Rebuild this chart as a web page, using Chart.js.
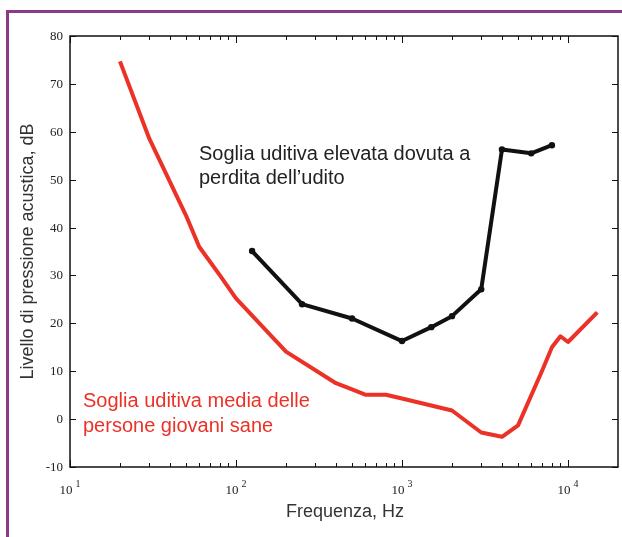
<!DOCTYPE html>
<html>
<head>
<meta charset="utf-8">
<script src="https://cdn.jsdelivr.net/npm/chart.js@4"></script>
<style>
  html, body { margin: 0; padding: 0; background: #fff; }
  canvas { display: block; }
</style>
</head>
<body>
<canvas id="chart" width="622" height="537"></canvas>
<script>
// average hearing threshold of young healthy listeners
const normalFreq = [20, 30, 50, 60, 80, 100, 200, 400, 500, 600, 800, 1000, 2000, 3000, 4000, 5000, 7000, 8000, 9000, 10000, 15000];
const normalLevel = [74.7, 58.6, 42.5, 36.0, 30.0, 25.2, 14.1, 7.5, 6.2, 5.1, 5.1, 4.3, 1.8, -2.8, -3.7, -1.3, 10.2, 15.0, 17.3, 16.1, 22.3];

// raised threshold caused by hearing loss
const lossFreq = [125, 250, 500, 1000, 1500, 2000, 3000, 4000, 6000, 8000];
const lossLevel = [35.1, 24.0, 21.0, 16.3, 19.2, 21.5, 27.1, 56.3, 55.5, 57.2];

const yTicks = [-10, 0, 10, 20, 30, 40, 50, 60, 70, 80];
const xDecades = [1, 2, 3, 4];

const xTitle = 'Frequenza, Hz';
const yTitle = 'Livello di pressione acustica, dB';
const normalLabel = ['Soglia uditiva media delle', 'persone giovani sane'];
const lossLabel = ['Soglia uditiva elevata dovuta a', 'perdita dell\u2019udito'];

const RED = '#ec3127';
const SERIF = '"Liberation Serif", "Times New Roman", serif';
const SANS = '"Liberation Sans", Arial, sans-serif';

const toPoints = (xs, ys) => xs.map((x, i) => ({ x: x, y: ys[i] }));

// thick stroke with a faint lighter core, like the printed curves
const curve = (data, color, width) => ({
    data: data, borderColor: color, borderWidth: width,
    pointRadius: 0, tension: 0, borderJoinStyle: 'round',
});

const framePlugin = {
    id: 'frame',
    afterDraw: (chart) => {
        const { ctx, chartArea: a, scales: { x, y } } = chart;
        ctx.save();

        // plot box
        ctx.strokeStyle = '#111';
        ctx.lineWidth = 1.5;
        ctx.strokeRect(a.left, a.top, a.right - a.left, a.bottom - a.top);

        // y ticks on both sides, pointing in
        ctx.lineWidth = 1;
        ctx.fillStyle = '#222';
        ctx.font = '13px ' + SERIF;
        ctx.textAlign = 'right';
        ctx.textBaseline = 'middle';
        yTicks.forEach((v) => {
            const py = Math.round(y.getPixelForValue(v)) + 0.5;
            ctx.beginPath();
            ctx.moveTo(a.left, py); ctx.lineTo(a.left + 6, py);
            ctx.moveTo(a.right, py); ctx.lineTo(a.right - 6, py);
            ctx.stroke();
            ctx.fillText(String(v), a.left - 7, py);
        });

        // log ticks on top and bottom
        xDecades.forEach((d) => {
            for (let m = 1; m <= 9; m++) {
                const f = m * Math.pow(10, d);
                if (f >= x.max) break;
                const px = Math.round(x.getPixelForValue(f)) + 0.5;
                const len = m === 1 ? 7 : 4;
                ctx.beginPath();
                ctx.moveTo(px, a.bottom); ctx.lineTo(px, a.bottom - len);
                ctx.moveTo(px, a.top); ctx.lineTo(px, a.top + len);
                ctx.stroke();
            }
            // "10" with a raised exponent
            const cx = x.getPixelForValue(Math.pow(10, d));
            ctx.font = '13px ' + SERIF;
            const w10 = ctx.measureText('10').width;
            ctx.font = '10px ' + SERIF;
            const wExp = ctx.measureText(String(d)).width;
            const start = cx - (w10 + 3 + wExp) / 2;
            ctx.textAlign = 'left';
            ctx.textBaseline = 'alphabetic';
            ctx.font = '13px ' + SERIF;
            ctx.fillText('10', start, a.bottom + 27);
            ctx.font = '10px ' + SERIF;
            ctx.fillText(String(d), start + w10 + 3, a.bottom + 20);
        });

        // axis titles
        ctx.fillStyle = '#333';
        ctx.font = '18px ' + SANS;
        ctx.textAlign = 'center';
        ctx.textBaseline = 'middle';
        ctx.fillText(xTitle, (a.left + a.right) / 2 + 1, 512);
        ctx.save();
        ctx.translate(28, (a.top + a.bottom) / 2);
        ctx.rotate(-Math.PI / 2);
        ctx.fillText(yTitle, 0, 0);
        ctx.restore();

        // curve captions
        ctx.font = '20px ' + SANS;
        ctx.textAlign = 'left';
        ctx.textBaseline = 'alphabetic';
        ctx.fillStyle = '#222';
        ctx.fillText(lossLabel[0], 199, 160);
        ctx.fillText(lossLabel[1], 199, 184);
        ctx.fillStyle = RED;
        ctx.fillText(normalLabel[0], 83, 407);
        ctx.fillText(normalLabel[1], 83, 432);

        // purple page border
        ctx.strokeStyle = '#8b3a87';
        ctx.lineWidth = 3;
        ctx.beginPath();
        ctx.moveTo(7.5, 537);
        ctx.lineTo(7.5, 11.5);
        ctx.lineTo(622, 11.5);
        ctx.stroke();

        ctx.restore();
    },
};

const normalPts = toPoints(normalFreq, normalLevel);
const lossPts = toPoints(lossFreq, lossLevel);

new Chart(document.getElementById('chart').getContext('2d'), {
    type: 'line',
    data: {
        datasets: [
            curve(normalPts, RED, 4),
            curve(normalPts, 'rgba(250,140,130,0.6)', 0.8),
            curve(lossPts, '#111', 4),
            curve(lossPts, 'rgba(120,120,120,0.6)', 0.8),
            {
                data: lossPts,
                showLine: false,
                backgroundColor: '#111',
                pointRadius: 3.2,
                pointBorderWidth: 0,
            },
        ],
    },
    options: {
        responsive: false,
        animation: false,
        layout: { padding: { left: 70, right: 2, top: 36, bottom: 70 } },
        plugins: { legend: { display: false }, tooltip: { enabled: false } },
        scales: {
            x: { type: 'logarithmic', min: 10, max: 20000, display: false },
            y: { type: 'linear', min: -10, max: 80, display: false },
        },
    },
    plugins: [framePlugin],
});
</script>
</body>
</html>
